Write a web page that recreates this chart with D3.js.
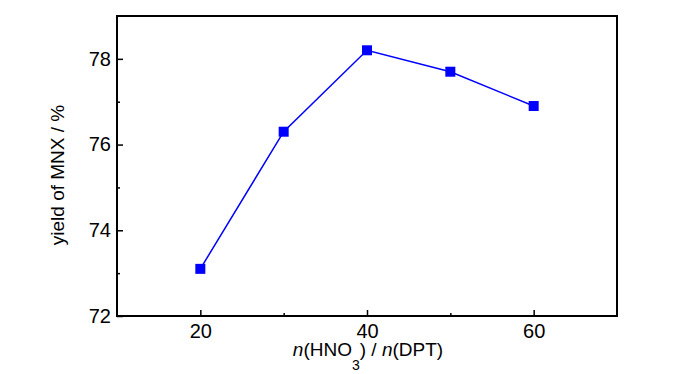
<!DOCTYPE html>
<html>
<head>
<meta charset="utf-8">
<script src="https://cdn.jsdelivr.net/npm/d3@7"></script>
<style>
  body { margin: 0; background: #fff; }
  text { font-family: "Liberation Sans", Arial, sans-serif; }
</style>
</head>
<body>
<div class="canva"></div>
<script>
const ratio = [20, 30, 40, 50, 60];
const yieldMNX = [73.1, 76.3, 78.2, 77.7, 76.9];
const xMajor = [20, 40, 60];
const xMinor = [30, 50];
const yMajor = [72, 74, 76, 78];
const yMinor = [73, 75, 77];

const plotL = 117, plotR = 617, plotT = 16, plotB = 316;

const svg = d3.select(".canva").append("svg")
    .attr("width", 700)
    .attr("height", 374);

const x = d3.scaleLinear().domain([10, 70]).range([plotL, plotR]);
const y = d3.scaleLinear().domain([72, 79]).range([plotB, plotT]);

// frame
svg.append("rect")
    .attr("x", plotL).attr("y", plotT)
    .attr("width", plotR - plotL).attr("height", plotB - plotT)
    .attr("fill", "none").attr("stroke", "#000").attr("stroke-width", 2);

// axes, ticks pointing inward
const xAxis = svg.append("g").attr("transform", `translate(0,${plotB})`);
xAxis.call(d3.axisBottom(x).tickValues(xMajor).tickFormat(d3.format("d"))
    .tickSizeInner(-6).tickSizeOuter(0).tickPadding(8));
xAxis.append("g").call(d3.axisBottom(x).tickValues(xMinor).tickSizeInner(-3).tickSizeOuter(0).tickFormat(""));

const yAxis = svg.append("g").attr("transform", `translate(${plotL},0)`);
yAxis.call(d3.axisLeft(y).tickValues(yMajor).tickFormat(d3.format("d"))
    .tickSizeInner(-6).tickSizeOuter(0).tickPadding(6));
yAxis.append("g").call(d3.axisLeft(y).tickValues(yMinor).tickSizeInner(-3).tickSizeOuter(0).tickFormat(""));

svg.selectAll(".domain").remove();
svg.selectAll(".tick line").attr("stroke", "#000").attr("stroke-width", 1.5);
svg.selectAll(".tick text")
    .attr("font-size", 20)
    .attr("fill", "#000")
    .style("font-family", "Liberation Sans, Arial, sans-serif");

// line + markers
const pts = ratio.map((r, i) => [r, yieldMNX[i]]);
svg.append("path")
    .datum(pts)
    .attr("fill", "none")
    .attr("stroke", "#0000ff")
    .attr("stroke-width", 1.5)
    .attr("d", d3.line().x(d => x(d[0])).y(d => y(d[1])));

svg.selectAll(".pt").data(pts).enter().append("rect")
    .attr("class", "pt")
    .attr("x", d => x(d[0]) - 5)
    .attr("y", d => y(d[1]) - 5)
    .attr("width", 10).attr("height", 10)
    .attr("fill", "#0000ff");

// y label
svg.append("text")
    .attr("transform", "translate(64,175) rotate(-90)")
    .attr("text-anchor", "middle")
    .attr("font-size", 19)
    .text("yield of MNX / %");

// x label with italic n and subscript 3
const xl = svg.append("text")
    .attr("x", 368)
    .attr("y", 356)
    .attr("text-anchor", "middle")
    .attr("font-size", 19);
xl.append("tspan").attr("font-style", "italic").text("n");
xl.append("tspan").text("(HNO");
xl.append("tspan").attr("font-size", 14).attr("dy", 14).text("3");
xl.append("tspan").attr("dy", -14).text(") / ");
xl.append("tspan").attr("font-style", "italic").text("n");
xl.append("tspan").text("(DPT)");
</script>
</body>
</html>
